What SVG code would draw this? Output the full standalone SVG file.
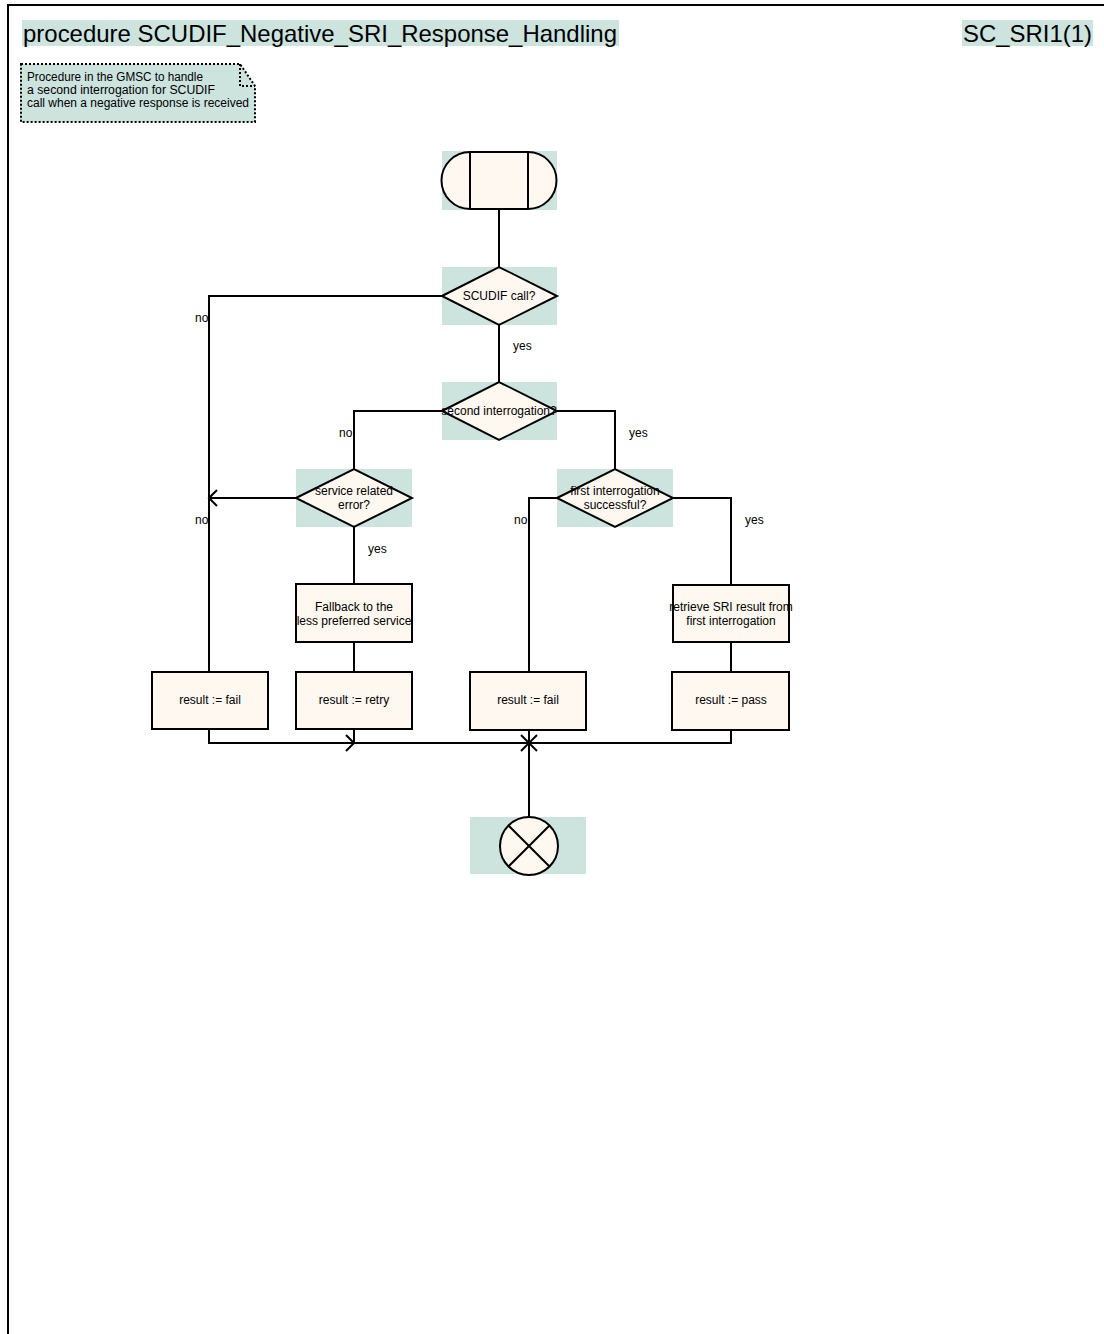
<svg xmlns="http://www.w3.org/2000/svg" width="1104" height="1334" viewBox="0 0 1104 1334">
<style>
.hl{fill:#cce3de;stroke:none}
.sh{fill:#fef8f1;stroke:#000;stroke-width:2}
.ln{fill:none;stroke:#000;stroke-width:2}
.t{font-family:"Liberation Sans",Arial,sans-serif;font-size:12px;fill:#000;text-anchor:middle}
.lb{font-family:"Liberation Sans",Arial,sans-serif;font-size:12px;fill:#000}
.big{font-family:"Liberation Sans",Arial,sans-serif;font-size:24px;fill:#000}
.cm{font-family:"Liberation Sans",Arial,sans-serif;font-size:12px;fill:#000}
</style>
<rect x="0" y="0" width="1104" height="1334" fill="#fff"/>
<g id="frame">
<path class="ln" d="M8,1334 V5 H1104"/>
</g>
<g id="title">
<rect class="hl" x="22" y="20" width="597" height="26"/>
<text class="big" x="23" y="42" textLength="594" lengthAdjust="spacingAndGlyphs">procedure SCUDIF_Negative_SRI_Response_Handling</text>
</g>
<g id="page">
<rect class="hl" x="962" y="20" width="131" height="26"/>
<text class="big" x="963" y="42" textLength="129" lengthAdjust="spacingAndGlyphs">SC_SRI1(1)</text>
</g>
<g id="comment">
<path class="hl" d="M20,64 H240 L255,86 V122 H20 Z"/>
<path fill="none" stroke="#000" stroke-width="2" stroke-dasharray="2,2" d="M21,64 H240 L255,86 V122 H21 Z M240,64 V86 H255"/>
<text class="cm" x="27" y="81" textLength="176" lengthAdjust="spacingAndGlyphs">Procedure in the GMSC to handle</text>
<text class="cm" x="27" y="94" textLength="188" lengthAdjust="spacingAndGlyphs">a second interrogation for SCUDIF</text>
<text class="cm" x="27" y="107" textLength="222" lengthAdjust="spacingAndGlyphs">call when a negative response is received</text>
</g>
<g id="connectors">
<path class="ln" d="M499,210 V267"/>
<path class="ln" d="M442,296 H209 V672"/>
<path class="ln" d="M499,325 V383"/>
<path class="ln" d="M442,411 H354 V469"/>
<path class="ln" d="M557,411 H615 V469"/>
<path class="ln" d="M296,498 H209"/>
<path class="ln" d="M217,490 L209,498 L217,506"/>
<path class="ln" d="M354,527 V584 M354,642 V672 M354,729 V743"/>
<path class="ln" d="M557,498 H529 V672"/>
<path class="ln" d="M673,498 H731 V585"/>
<path class="ln" d="M731,642 V672"/>
<path class="ln" d="M209,729 V743 H731 V730"/>
<path class="ln" d="M346,735 L354,743 L346,751"/>
<path class="ln" d="M529,730 V816"/>
<path class="ln" d="M521,735 L529,743 L521,751 M537,735 L529,743 L537,751"/>
<text class="lb" x="195" y="322">no</text>
<text class="lb" x="513" y="350">yes</text>
<text class="lb" x="339" y="437">no</text>
<text class="lb" x="629" y="437">yes</text>
<text class="lb" x="195" y="524">no</text>
<text class="lb" x="368" y="553">yes</text>
<text class="lb" x="514" y="524">no</text>
<text class="lb" x="745" y="524">yes</text>
</g>
<g id="start">
<rect class="hl" x="442" y="151" width="115" height="59"/>
<path class="sh" d="M470,152 H528 A28.5,28.5 0 0 1 528,209 H470 A28.5,28.5 0 0 1 470,152 Z"/>
<path class="ln" d="M470,152 V209 M528,152 V209"/>
</g>
<g id="d_scudif">
<rect class="hl" x="442" y="267" width="115" height="58"/>
<path class="sh" d="M442,296 L499,267 L557,296 L499,325 Z"/>
<text class="t" x="499" y="300">SCUDIF call?</text>
</g>
<g id="d_second">
<rect class="hl" x="442" y="382" width="115" height="58"/>
<path class="sh" d="M442,411 L499,382 L557,411 L499,440 Z"/>
<text class="t" x="499" y="415">second interrogation?</text>
</g>
<g id="d_service">
<rect class="hl" x="296" y="469" width="116" height="58"/>
<path class="sh" d="M296,498 L354,469 L412,498 L354,527 Z"/>
<text class="t" x="354" y="495">service  related</text>
<text class="t" x="354" y="509">error?</text>
</g>
<g id="d_first">
<rect class="hl" x="557" y="469" width="116" height="58"/>
<path class="sh" d="M557,498 L615,469 L673,498 L615,527 Z"/>
<text class="t" x="615" y="495">first interrogation</text>
<text class="t" x="615" y="509">successful?</text>
</g>
<g id="fallback">
<rect class="sh" x="296" y="584" width="116" height="58"/>
<text class="t" x="354" y="611">Fallback to the</text>
<text class="t" x="354" y="625">less preferred service</text>
</g>
<g id="retrieve">
<rect class="sh" x="673" y="585" width="116" height="57"/>
<text class="t" x="731" y="611">retrieve SRI result from</text>
<text class="t" x="731" y="625">first interrogation</text>
</g>
<g id="fail1">
<rect class="sh" x="152" y="672" width="116" height="57"/>
<text class="t" x="210" y="704">result := fail</text>
</g>
<g id="retry">
<rect class="sh" x="296" y="672" width="116" height="57"/>
<text class="t" x="354" y="704">result := retry</text>
</g>
<g id="fail2">
<rect class="sh" x="470" y="672" width="116" height="58"/>
<text class="t" x="528" y="704">result := fail</text>
</g>
<g id="pass">
<rect class="sh" x="672" y="672" width="117" height="58"/>
<text class="t" x="731" y="704">result := pass</text>
</g>
<g id="end">
<rect class="hl" x="470" y="817" width="116" height="57"/>
<circle class="sh" cx="529" cy="846" r="29"/>
<path class="ln" d="M508.5,825.5 L549.5,866.5 M549.5,825.5 L508.5,866.5"/>
</g>
</svg>
